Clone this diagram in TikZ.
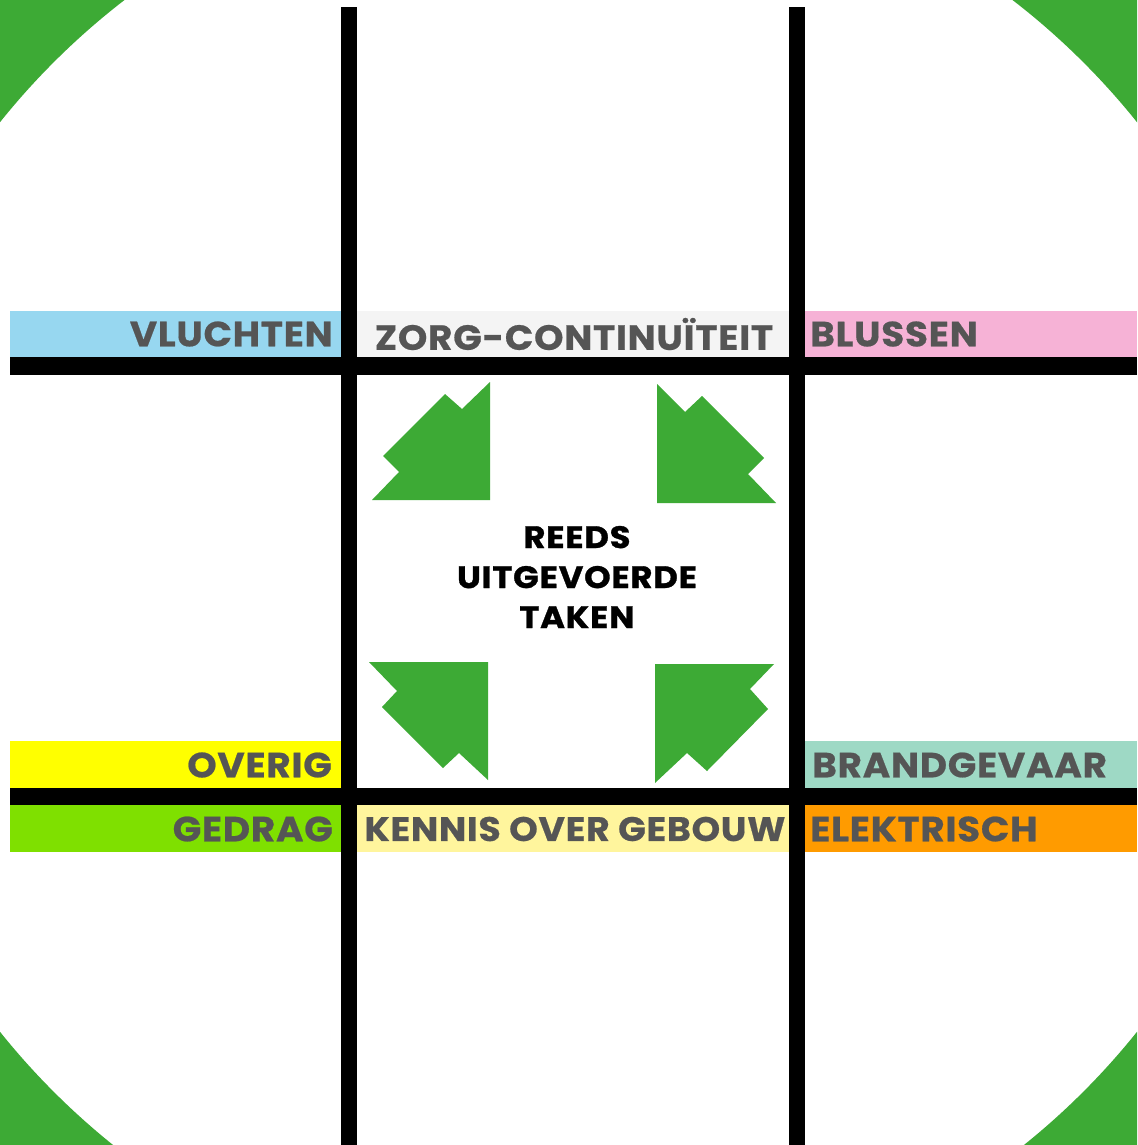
\documentclass[tikz,border=0pt]{standalone}
\usepackage{fontspec}
\setmainfont{Poppins}
\newfontfamily\labelfont{Poppins}[FakeStretch=1.07,LetterSpace=2,FakeBold=0.6]
\newfontfamily\centerfont{Poppins}[FakeStretch=1.09,LetterSpace=2.5,FakeBold=1]
\begin{document}
\begin{tikzpicture}[x=1pt,y=-1pt,
  cornergreen/.style={fill=cgreen},
  arrowshape/.style={fill=cgreen},
  label/.style={text=labelgray,font=\labelfont\bfseries\fontsize{35}{35}\selectfont,inner sep=0pt},
  centerlabel/.style={text=black,font=\centerfont\bfseries\fontsize{31}{40}\selectfont,align=center,inner sep=0pt},
  gridline/.style={fill=black}]
\definecolor{cgreen}{HTML}{3DAA35}
\definecolor{labelgray}{HTML}{555555}
\definecolor{cblue}{HTML}{97D7F0}
\definecolor{cgray}{HTML}{F4F4F4}
\definecolor{cpink}{HTML}{F6B2D6}
\definecolor{cyellow}{HTML}{FFFF00}
\definecolor{clime}{HTML}{7FE000}
\definecolor{clightyellow}{HTML}{FFF59D}
\definecolor{cteal}{HTML}{9ED9C5}
\definecolor{corange}{HTML}{FF9B00}
\useasboundingbox (0,0) rectangle (1137,1145);
\fill[white] (0,0) rectangle (1137,1145);
% green corners outside the big circle
\begin{scope}
\clip (0,0) rectangle (1137,1145);
\fill[cornergreen,even odd rule] (-10,-10) rectangle (1147,1155) (568.5,577) circle[radius=728];
\end{scope}
% coloured bands
\fill[cblue] (10,311) rectangle (341,357);
\fill[cgray] (357,311) rectangle (789,357);
\fill[cpink] (805,311) rectangle (1137,357);
\fill[cyellow] (10,741) rectangle (341,788);
\fill[cteal] (805,741) rectangle (1137,788);
\fill[clime] (10,805) rectangle (341,852);
\fill[clightyellow] (357,805) rectangle (789,852);
\fill[corange] (805,805) rectangle (1137,852);
% grid lines
\fill[gridline] (341,7) rectangle (357,1145);
\fill[gridline] (789,7) rectangle (805,1145);
\fill[gridline] (10,357) rectangle (1137,375);
\fill[gridline] (10,788) rectangle (1137,805);
% arrows
\fill[arrowshape] (372,500) -- (490,500) -- (490,382) -- (462,409) -- (445,394) -- (383,456) -- (399,472) -- cycle;
\fill[arrowshape] (657,384) -- (685,412) -- (702,396) -- (764,458) -- (748,474) -- (776,503) -- (657,503) -- cycle;
\fill[arrowshape] (369,662) -- (488,662) -- (488,780) -- (459,753) -- (443,768) -- (382,707) -- (397,691) -- cycle;
\fill[arrowshape] (655,664) -- (774,664) -- (750,689) -- (768,709) -- (707,771) -- (687,753) -- (655,783) -- cycle;
% labels
\node[label,anchor=east] (vluchten) at (333,334) {VLUCHTEN};
\node[label] (zorg) at (574,334) {ZORG-CONTINUÏTEIT};
\node[label,anchor=west] (blussen) at (810,334) {BLUSSEN};
\node[label,anchor=east] (overig) at (332,765) {OVERIG};
\node[label,anchor=west] (brandgevaar) at (812,765) {BRANDGEVAAR};
\node[label,anchor=east] (gedrag) at (333,829) {GEDRAG};
\node[label,font=\labelfont\bfseries\fontsize{34}{34}\selectfont] (kennis) at (575,829) {KENNIS OVER GEBOUW};
\node[label,anchor=west] (elektrisch) at (810,829) {ELEKTRISCH};
\node[centerlabel] (center) at (577,577) {REEDS\\UITGEVOERDE\\TAKEN};
\end{tikzpicture}
\end{document}
